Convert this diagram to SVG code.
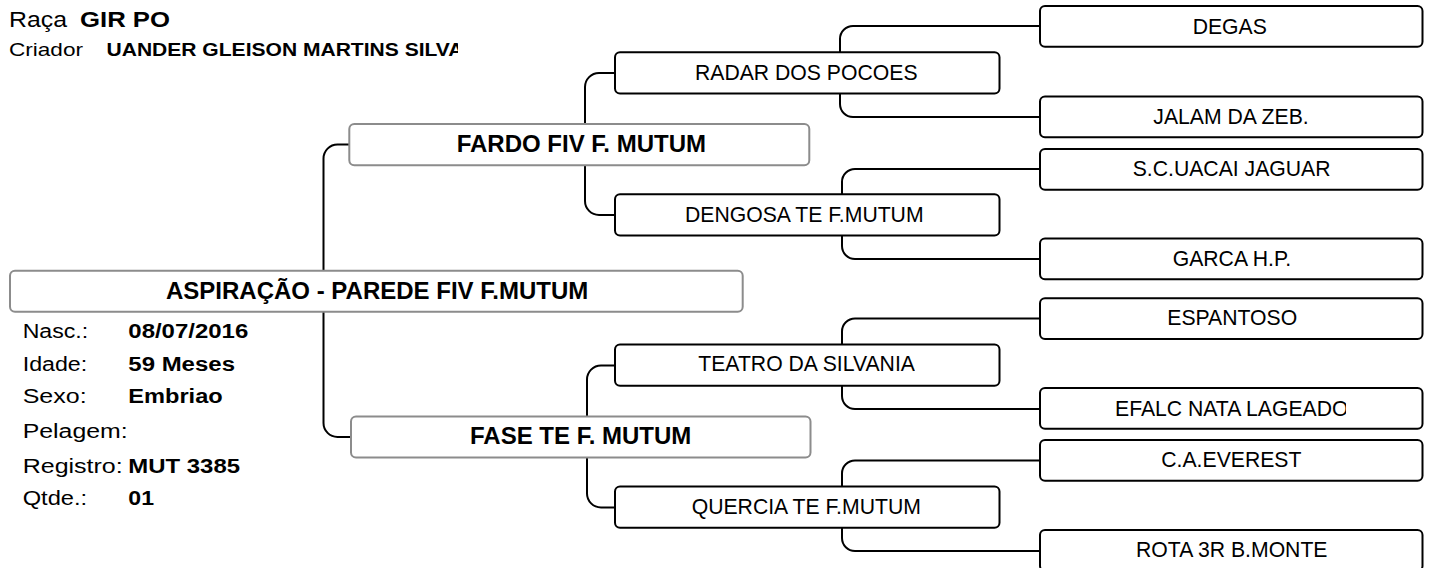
<svg xmlns="http://www.w3.org/2000/svg" width="1429" height="568" viewBox="0 0 1429 568">
<defs>
<style>
.conn{fill:none;stroke:#000;stroke-width:2}
.box{fill:#fff;stroke:#000;stroke-width:2}
.pbox{fill:#fff;stroke:#8c8c8c;stroke-width:2}
text{font-family:"Liberation Sans",Arial,Helvetica,sans-serif;fill:#000}
.n{font-size:21.2px}
.nb{font-size:24px;font-weight:bold}
.lab{font-size:20px}
.val{font-size:20px;font-weight:bold}
</style>
<clipPath id="clipName"><rect x="0" y="30" width="458" height="35"/></clipPath>
<clipPath id="clipMain"><rect x="10" y="270" width="579" height="42"/></clipPath>
<clipPath id="clipFardo"><rect x="349" y="124" width="356" height="42"/></clipPath>
<clipPath id="clipFase"><rect x="351" y="416" width="342" height="42"/></clipPath>
<clipPath id="clipDengosa"><rect x="615" y="194" width="310" height="42"/></clipPath>
<clipPath id="clipTeatro"><rect x="615" y="344" width="300" height="42"/></clipPath>
<clipPath id="clipQuercia"><rect x="615" y="486" width="305" height="42"/></clipPath>
<clipPath id="clipGarca"><rect x="1040" y="238" width="251" height="42"/></clipPath>
<clipPath id="clipEfalc"><rect x="1040" y="388" width="306" height="42"/></clipPath>
</defs>

<g id="header">
<text x="9" y="27.3" style="font-size:21.5px" textLength="58" lengthAdjust="spacingAndGlyphs">Raça</text>
<text x="80" y="27.3" style="font-size:22px;font-weight:bold" textLength="90" lengthAdjust="spacingAndGlyphs">GIR PO</text>
<text x="9" y="55.5" style="font-size:18.5px" textLength="74" lengthAdjust="spacingAndGlyphs">Criador</text>
<text x="106.5" y="55.5" style="font-size:18px;font-weight:bold" textLength="357" lengthAdjust="spacingAndGlyphs" clip-path="url(#clipName)">UANDER GLEISON MARTINS SILVA</text>
</g>

<g id="connectors">
<path class="conn" d="M349 144.5 H337.5 A14 14 0 0 0 323.5 158.5 V423 A14 14 0 0 0 337.5 437 H351"/>
<path class="conn" d="M615 73 H599 A14 14 0 0 0 585 87 V201 A14 14 0 0 0 599 215 H615"/>
<path class="conn" d="M615 365.5 H601 A14 14 0 0 0 587 379.5 V493.5 A14 14 0 0 0 601 507.5 H615"/>
<path class="conn" d="M1040 26 H853 A13 13 0 0 0 840 39 V104 A13 13 0 0 0 853 117 H1040"/>
<path class="conn" d="M1040 169 H855 A13 13 0 0 0 842 182 V246 A13 13 0 0 0 855 259 H1040"/>
<path class="conn" d="M1040 318.5 H855 A13 13 0 0 0 842 331.5 V396 A13 13 0 0 0 855 409 H1040"/>
<path class="conn" d="M1040 460.5 H855 A13 13 0 0 0 842 473.5 V538 A13 13 0 0 0 855 551 H1040"/>
</g>

<g id="node-main">
<rect class="pbox" x="10" y="270.7" width="732.7" height="41" rx="5"/>
<text class="nb" x="166" y="298.6" clip-path="url(#clipMain)">ASPIRAÇÃO - PAREDE FIV F.MUTUM</text>
</g>

<g id="info">
<text class="lab" x="22.7" y="338.3" textLength="65.5" lengthAdjust="spacingAndGlyphs">Nasc.:</text>
<text class="val" x="128.3" y="338.3" textLength="120" lengthAdjust="spacingAndGlyphs">08/07/2016</text>
<text class="lab" x="22.7" y="371" textLength="64.5" lengthAdjust="spacingAndGlyphs">Idade:</text>
<text class="val" x="128.3" y="371" textLength="106.7" lengthAdjust="spacingAndGlyphs">59 Meses</text>
<text class="lab" x="22.7" y="403" textLength="64" lengthAdjust="spacingAndGlyphs">Sexo:</text>
<text class="val" x="128.3" y="403" textLength="94.4" lengthAdjust="spacingAndGlyphs">Embriao</text>
<text class="lab" x="22.7" y="437.5" textLength="105" lengthAdjust="spacingAndGlyphs">Pelagem:</text>
<text class="lab" x="22.7" y="473" textLength="100" lengthAdjust="spacingAndGlyphs">Registro:</text>
<text class="val" x="128.3" y="473" textLength="111.7" lengthAdjust="spacingAndGlyphs">MUT 3385</text>
<text class="lab" x="22.7" y="505" textLength="64.5" lengthAdjust="spacingAndGlyphs">Qtde.:</text>
<text class="val" x="128.3" y="505" textLength="25.7" lengthAdjust="spacingAndGlyphs">01</text>
</g>

<g id="node-fardo">
<rect class="pbox" x="349.3" y="124" width="460" height="41.3" rx="5"/>
<text class="nb" x="456.7" y="152" clip-path="url(#clipFardo)">FARDO FIV F. MUTUM</text>
</g>
<g id="node-fase">
<rect class="pbox" x="351" y="416.5" width="459.5" height="41" rx="5"/>
<text class="nb" x="470" y="444.4" clip-path="url(#clipFase)">FASE TE F. MUTUM</text>
</g>

<g id="node-radar">
<rect class="box" x="615" y="52.3" width="384.5" height="41.3" rx="5"/>
<text class="n" x="695" y="79.5">RADAR DOS POCOES</text>
</g>
<g id="node-dengosa">
<rect class="box" x="615" y="194.3" width="384.5" height="41.3" rx="5"/>
<text class="n" x="685" y="221.7" clip-path="url(#clipDengosa)">DENGOSA TE F.MUTUM</text>
</g>
<g id="node-teatro">
<rect class="box" x="615" y="344.5" width="384.5" height="41.3" rx="5"/>
<text class="n" x="698.3" y="371.2" clip-path="url(#clipTeatro)">TEATRO DA SILVANIA</text>
</g>
<g id="node-quercia">
<rect class="box" x="615" y="486.5" width="384.5" height="41.3" rx="5"/>
<text class="n" x="691.7" y="514" clip-path="url(#clipQuercia)">QUERCIA TE F.MUTUM</text>
</g>

<g id="node-degas">
<rect class="box" x="1040" y="6" width="382.5" height="40.8" rx="5"/>
<text class="n" x="1192.7" y="33.5">DEGAS</text>
</g>
<g id="node-jalam">
<rect class="box" x="1040" y="96.5" width="382.5" height="40.8" rx="5"/>
<text class="n" x="1153.3" y="124">JALAM DA ZEB.</text>
</g>
<g id="node-scuacai">
<rect class="box" x="1040" y="149" width="382.5" height="40.8" rx="5"/>
<text class="n" x="1132.7" y="176.3">S.C.UACAI JAGUAR</text>
</g>
<g id="node-garca">
<rect class="box" x="1040" y="238.5" width="382.5" height="40.8" rx="5"/>
<text class="n" x="1172.7" y="265.5" clip-path="url(#clipGarca)">GARCA H.P.</text>
</g>
<g id="node-espantoso">
<rect class="box" x="1040" y="298.3" width="382.5" height="40.8" rx="5"/>
<text class="n" x="1167.3" y="325.3">ESPANTOSO</text>
</g>
<g id="node-efalc">
<rect class="box" x="1040" y="388" width="382.5" height="40.8" rx="5"/>
<text class="n" x="1115" y="415.5" clip-path="url(#clipEfalc)">EFALC NATA LAGEADO</text>
</g>
<g id="node-caeverest">
<rect class="box" x="1040" y="440" width="382.5" height="40.8" rx="5"/>
<text class="n" x="1161.3" y="467">C.A.EVEREST</text>
</g>
<g id="node-rota">
<rect class="box" x="1040" y="530" width="382.5" height="40.8" rx="5"/>
<text class="n" x="1136" y="557">ROTA 3R B.MONTE</text>
</g>
</svg>
